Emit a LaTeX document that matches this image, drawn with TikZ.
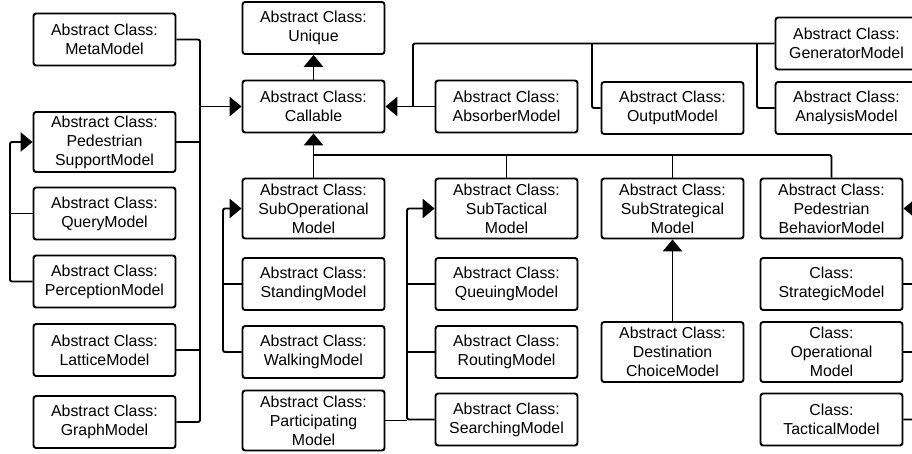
\documentclass[tikz,border=0pt]{standalone}
\usepackage{fontspec}
\setmainfont{Liberation Sans}
\usetikzlibrary{arrows.meta}
\tikzset{
  box/.style={draw, rounded corners=2pt, line width=1.45pt, align=center, inner sep=0pt,
    minimum width=106.5pt, font=\fontsize{11.9}{14.25}\selectfont},
  btwo/.style={box, minimum height=39pt},
  bthree/.style={box, minimum height=45pt},
  conn/.style={line width=1.45pt, rounded corners=1.5pt},
  arr/.style={conn, -{Triangle[length=9pt, width=14.5pt]}}
}
\begin{document}
\begin{tikzpicture}[x=0.75pt, y=-0.75pt]
\path[use as bounding box] (0,0) rectangle (912,453);
\clip (0,0) rectangle (912,453);
% left column
\node[btwo] (meta) at (104.5,39.5) {Abstract Class:\\MetaModel};
\node[bthree] (pedsup) at (104.5,142) {Abstract Class:\\Pedestrian\\SupportModel};
\node[btwo] (query) at (104.5,213.5) {Abstract Class:\\QueryModel};
\node[btwo] (perception) at (104.5,281.5) {Abstract Class:\\PerceptionModel};
\node[btwo] (lattice) at (104.5,350) {Abstract Class:\\LatticeModel};
\node[btwo] (graph) at (104.5,422) {Abstract Class:\\GraphModel};
% top
\node[btwo] (unique) at (313.5,28) {Abstract Class:\\Unique};
\node[btwo] (callable) at (313.5,106.5) {Abstract Class:\\Callable};
\node[btwo] (absorber) at (506.5,106.5) {Abstract Class:\\AbsorberModel};
\node[btwo] (output) at (672.5,108) {Abstract Class:\\OutputModel};
\node[btwo] (generator) at (846.5,43.5) {Abstract Class:\\GeneratorModel};
\node[btwo] (analysis) at (846.5,108) {Abstract Class:\\AnalysisModel};
% second row
\node[bthree] (subop) at (313.5,208.5) {Abstract Class:\\SubOperational\\Model};
\node[bthree] (subtac) at (506.5,208.5) {Abstract Class:\\SubTactical\\Model};
\node[bthree] (substr) at (672.5,208.5) {Abstract Class:\\SubStrategical\\Model};
\node[bthree] (pedbeh) at (831.5,208.5) {Abstract Class:\\Pedestrian\\BehaviorModel};
% lower
\node[btwo] (standing) at (313.5,284) {Abstract Class:\\StandingModel};
\node[btwo] (walking) at (313.5,352) {Abstract Class:\\WalkingModel};
\node[bthree] (particip) at (313.5,420.5) {Abstract Class:\\Participating\\Model};
\node[btwo] (queuing) at (506.5,284) {Abstract Class:\\QueuingModel};
\node[btwo] (routing) at (506.5,352) {Abstract Class:\\RoutingModel};
\node[btwo] (searching) at (506.5,419.5) {Abstract Class:\\SearchingModel};
\node[bthree] (dest) at (672.5,352) {Abstract Class:\\Destination\\ChoiceModel};
\node[btwo] (strategic) at (831.5,284) {Class:\\StrategicModel};
\node[bthree] (operational) at (831.5,352) {Class:\\Operational\\Model};
\node[btwo] (tactical) at (831.5,419.5) {Class:\\TacticalModel};
% coordinates
\coordinate (lb) at (200,106.5);
\coordinate (ll) at (10,142);
\coordinate (rb) at (413,106.5);
\coordinate (ob) at (592,43.5);
\coordinate (ab) at (757,43.5);
\coordinate (cb) at (313.5,155);
\coordinate (sl) at (223,208.5);
\coordinate (tl) at (407,208.5);
\coordinate (pl) at (925,208.5);
% left bus
\draw[conn] (meta.east) -| (lb);
\draw[conn] (graph.east) -| (lb);
\draw[conn] (pedsup.east) -- (pedsup.east -| lb);
\draw[conn] (lattice.east) -- (lattice.east -| lb);
\draw[arr] (lb) -- (callable.west);
% left loop
\draw[arr] (perception.west) -| (ll) -- (pedsup.west);
\draw[conn] (query.west) -- (query.west -| ll);
% callable up
\draw[arr] (callable.north) -- (unique.south);
% right of callable
\draw[arr] (absorber.west) -- (callable.east);
\draw[conn] (rb) |- (generator.west);
\draw[conn] (output.west) -| (ob);
\draw[conn] (analysis.west) -| (ab);
% bottom bus
\draw[arr] (subop.north) -- (callable.south);
\draw[conn] (cb) -| (pedbeh.north);
\draw[conn] (subtac.north) -- (subtac.north |- cb);
\draw[conn] (substr.north) -- (substr.north |- cb);
% suboperational loop
\draw[arr] (walking.west) -| (sl) -- (subop.west);
\draw[conn] (standing.west) -- (standing.west -| sl);
% subtactical loop
\draw[arr] (searching.west) -| (tl) -- (subtac.west);
\draw[conn] (queuing.west) -- (queuing.west -| tl);
\draw[conn] (routing.west) -- (routing.west -| tl);
\draw[conn] (particip.east) -- (particip.east -| tl);
% destination choice
\draw[arr] (dest.north) -- (substr.south);
% right loop
\draw[arr] (tactical.east) -| (pl) -- (pedbeh.east);
\draw[conn] (strategic.east) -- (strategic.east -| pl);
\draw[conn] (operational.east) -- (operational.east -| pl);
\end{tikzpicture}
\end{document}
